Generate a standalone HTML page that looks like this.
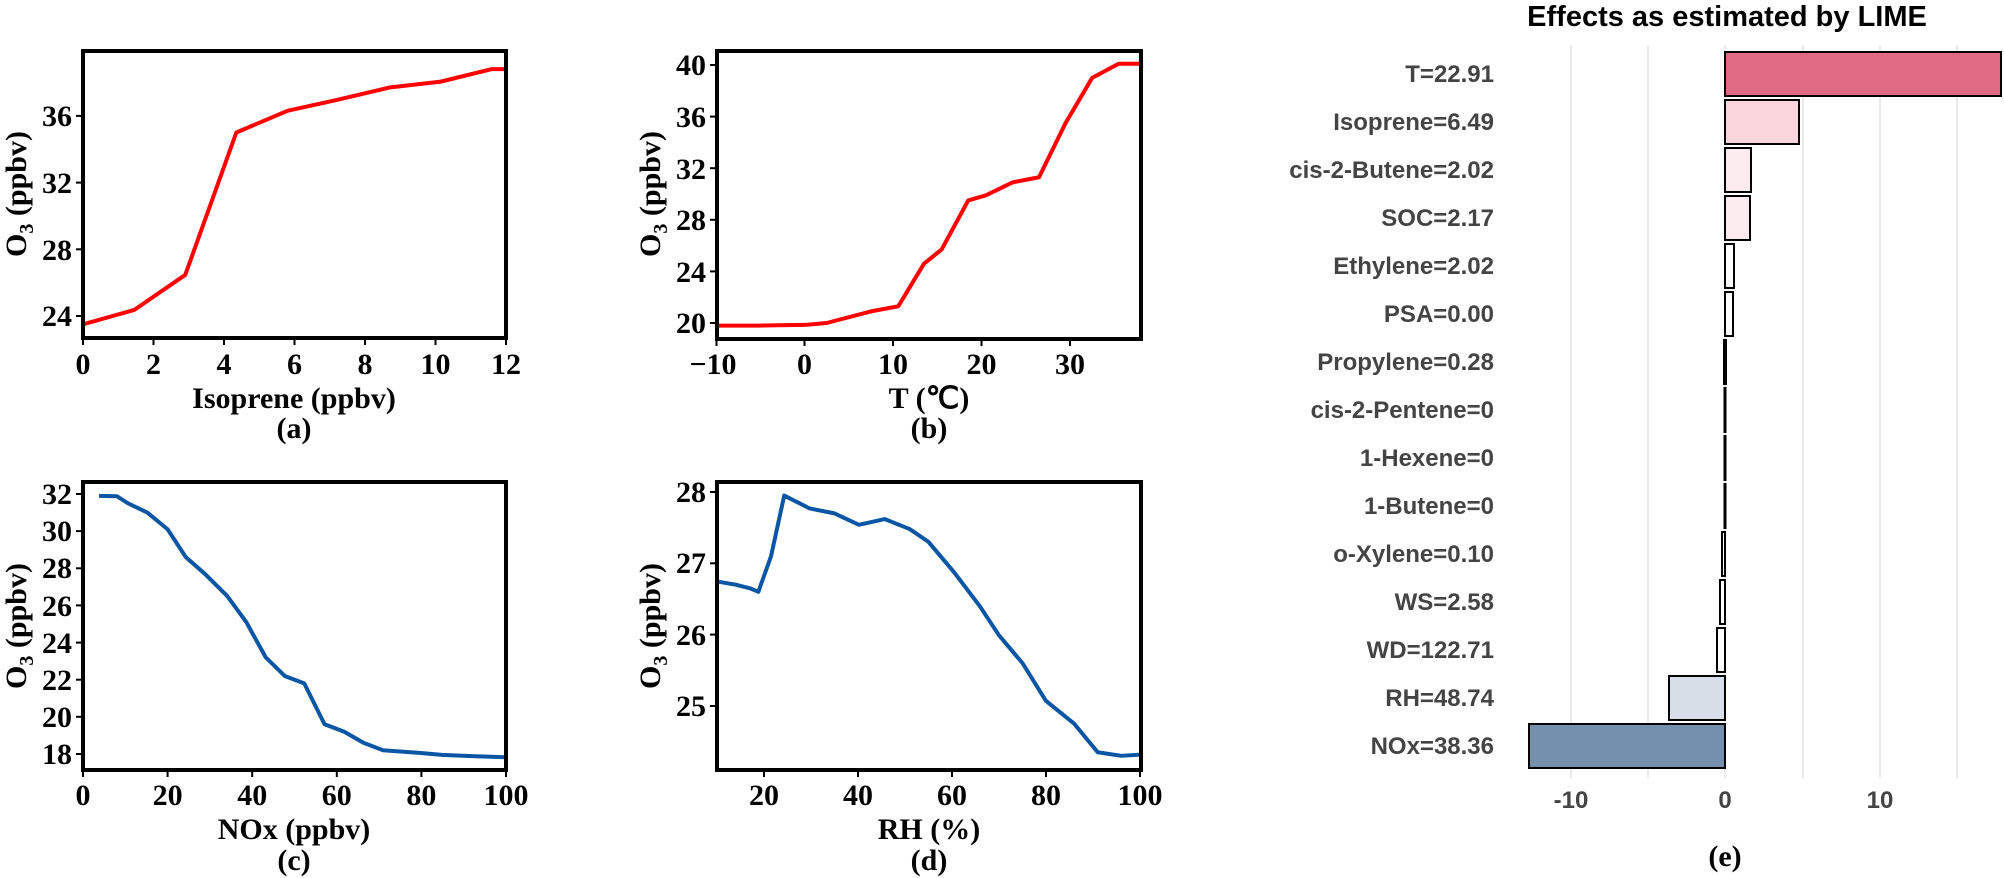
<!DOCTYPE html>
<html><head><meta charset="utf-8"><style>
html,body{margin:0;padding:0;background:#fff;}
svg{display:block;}
.t{font-family:"Liberation Serif",serif;font-weight:bold;font-size:30px;fill:#000;}
.l{font-family:"Liberation Sans",sans-serif;font-weight:bold;font-size:24px;fill:#444;}
</style></head><body>
<svg width="2004" height="878" viewBox="0 0 2004 878" xmlns="http://www.w3.org/2000/svg">
<defs>
<clipPath id="ca"><rect x="83" y="51" width="423" height="287"/></clipPath>
<clipPath id="cb"><rect x="717" y="51" width="424" height="288"/></clipPath>
<clipPath id="cc"><rect x="83" y="482" width="423" height="288"/></clipPath>
<clipPath id="cd"><rect x="717" y="482" width="424" height="288"/></clipPath>
</defs>

<!-- Panel a -->
<g clip-path="url(#ca)">
<polyline transform="matrix(35.25 0 0 -16.68 83 716.3)" vector-effect="non-scaling-stroke" fill="none" stroke="#ff0000" stroke-width="4" stroke-linejoin="round"
points="0,23.5 1.45,24.36 2.9,26.46 4.35,35.0 5.8,36.3 7.2,36.95 8.7,37.7 10.15,38.05 11.6,38.8 12.2,38.8"/>
</g>
<rect x="83" y="51" width="423" height="287" fill="none" stroke="#000" stroke-width="4"/>
<g stroke="#000" stroke-width="2">
<line x1="83" y1="338" x2="83" y2="345"/><line x1="153.5" y1="338" x2="153.5" y2="345"/><line x1="224" y1="338" x2="224" y2="345"/><line x1="294.5" y1="338" x2="294.5" y2="345"/><line x1="365" y1="338" x2="365" y2="345"/><line x1="435.5" y1="338" x2="435.5" y2="345"/><line x1="506" y1="338" x2="506" y2="345"/>
<line x1="76" y1="316" x2="83" y2="316"/><line x1="76" y1="249.3" x2="83" y2="249.3"/><line x1="76" y1="182.6" x2="83" y2="182.6"/><line x1="76" y1="115.9" x2="83" y2="115.9"/>
</g>
<g class="t" text-anchor="middle">
<text x="83" y="374">0</text><text x="153.5" y="374">2</text><text x="224" y="374">4</text><text x="294.5" y="374">6</text><text x="365" y="374">8</text><text x="435.5" y="374">10</text><text x="506" y="374">12</text>
<text x="294" y="408">Isoprene (ppbv)</text><text x="294" y="438">(a)</text>
</g>
<g class="t" text-anchor="end">
<text x="72" y="326">24</text><text x="72" y="260">28</text><text x="72" y="193">32</text><text x="72" y="126">36</text>
</g>
<text class="t" transform="translate(26,194) rotate(-90)" text-anchor="middle">O<tspan font-size="20" dy="7">3</tspan><tspan dy="-7"> (ppbv)</tspan></text>

<!-- Panel b -->
<g clip-path="url(#cb)">
<polyline transform="matrix(8.85 0 0 -12.9 804.5 581)" vector-effect="non-scaling-stroke" fill="none" stroke="#ff0000" stroke-width="4" stroke-linejoin="round"
points="-10,19.8 -5,19.8 0,19.85 2.5,20 7.5,20.9 10.6,21.3 13.5,24.6 15.5,25.7 18.5,29.5 20.5,29.9 23.5,30.9 26.5,31.3 29.5,35.5 32.5,39 35.5,40.1 38.5,40.1"/>
</g>
<rect x="717" y="51" width="424" height="288" fill="none" stroke="#000" stroke-width="4"/>
<g stroke="#000" stroke-width="2">
<line x1="716.5" y1="339" x2="716.5" y2="346"/><line x1="804.5" y1="339" x2="804.5" y2="346"/><line x1="893" y1="339" x2="893" y2="346"/><line x1="981.5" y1="339" x2="981.5" y2="346"/><line x1="1070" y1="339" x2="1070" y2="346"/>
<line x1="710" y1="323" x2="717" y2="323"/><line x1="710" y1="271.4" x2="717" y2="271.4"/><line x1="710" y1="219.8" x2="717" y2="219.8"/><line x1="710" y1="168.2" x2="717" y2="168.2"/><line x1="710" y1="116.6" x2="717" y2="116.6"/><line x1="710" y1="65" x2="717" y2="65"/>
</g>
<g class="t" text-anchor="middle">
<text x="713" y="374">−10</text><text x="804.5" y="374">0</text><text x="893" y="374">10</text><text x="981.5" y="374">20</text><text x="1070" y="374">30</text>
<text x="929" y="408">T (℃)</text><text x="929" y="438">(b)</text>
</g>
<g class="t" text-anchor="end">
<text x="706" y="333">20</text><text x="706" y="282">24</text><text x="706" y="230">28</text><text x="706" y="179">32</text><text x="706" y="127">36</text><text x="706" y="75">40</text>
</g>
<text class="t" transform="translate(660,194) rotate(-90)" text-anchor="middle">O<tspan font-size="20" dy="7">3</tspan><tspan dy="-7"> (ppbv)</tspan></text>

<!-- Panel c -->
<g clip-path="url(#cc)">
<polyline transform="matrix(4.23 0 0 -18.57 83 1088.2)" vector-effect="non-scaling-stroke" fill="none" stroke="#0b56a4" stroke-width="4" stroke-linejoin="round"
points="3.8,31.9 8,31.88 10.6,31.5 15.2,31 20,30.1 24.3,28.6 28.8,27.7 34.1,26.5 38.6,25.1 43.2,23.2 47.7,22.2 52.3,21.8 57.1,19.6 61.7,19.2 66.3,18.6 70.9,18.2 79.9,18.05 84.8,17.95 92,17.88 100.5,17.82"/>
</g>
<rect x="83" y="482" width="423" height="288" fill="none" stroke="#000" stroke-width="4"/>
<g stroke="#000" stroke-width="2">
<line x1="83" y1="770" x2="83" y2="777"/><line x1="167.6" y1="770" x2="167.6" y2="777"/><line x1="252.2" y1="770" x2="252.2" y2="777"/><line x1="336.8" y1="770" x2="336.8" y2="777"/><line x1="421.4" y1="770" x2="421.4" y2="777"/><line x1="506" y1="770" x2="506" y2="777"/>
<line x1="76" y1="754" x2="83" y2="754"/><line x1="76" y1="716.8" x2="83" y2="716.8"/><line x1="76" y1="679.7" x2="83" y2="679.7"/><line x1="76" y1="642.6" x2="83" y2="642.6"/><line x1="76" y1="605.4" x2="83" y2="605.4"/><line x1="76" y1="568.3" x2="83" y2="568.3"/><line x1="76" y1="531.1" x2="83" y2="531.1"/><line x1="76" y1="494" x2="83" y2="494"/>
</g>
<g class="t" text-anchor="middle">
<text x="83" y="805">0</text><text x="167.6" y="805">20</text><text x="252.2" y="805">40</text><text x="336.8" y="805">60</text><text x="421.4" y="805">80</text><text x="506" y="805">100</text>
<text x="294" y="839">NOx (ppbv)</text><text x="294" y="870">(c)</text>
</g>
<g class="t" text-anchor="end">
<text x="72" y="764">18</text><text x="72" y="727">20</text><text x="72" y="690">22</text><text x="72" y="653">24</text><text x="72" y="616">26</text><text x="72" y="578">28</text><text x="72" y="541">30</text><text x="72" y="504">32</text>
</g>
<text class="t" transform="translate(26,626) rotate(-90)" text-anchor="middle">O<tspan font-size="20" dy="7">3</tspan><tspan dy="-7"> (ppbv)</tspan></text>

<!-- Panel d -->
<g clip-path="url(#cd)">
<polyline transform="matrix(4.7 0 0 -71.3 670 2488.4)" vector-effect="non-scaling-stroke" fill="none" stroke="#0b56a4" stroke-width="4" stroke-linejoin="round"
points="9.5,26.75 14,26.7 17,26.65 18.8,26.6 21.5,27.1 24.3,27.95 29.7,27.77 35,27.7 40.2,27.54 45.7,27.62 51,27.48 55,27.3 60.5,26.87 65.9,26.4 70,25.99 75,25.6 80,25.07 86,24.75 91,24.35 96,24.3 101,24.32"/>
</g>
<rect x="717" y="482" width="424" height="288" fill="none" stroke="#000" stroke-width="4"/>
<g stroke="#000" stroke-width="2">
<line x1="764" y1="770" x2="764" y2="777"/><line x1="858" y1="770" x2="858" y2="777"/><line x1="952" y1="770" x2="952" y2="777"/><line x1="1046" y1="770" x2="1046" y2="777"/><line x1="1140" y1="770" x2="1140" y2="777"/>
<line x1="710" y1="706" x2="717" y2="706"/><line x1="710" y1="634.6" x2="717" y2="634.6"/><line x1="710" y1="563.3" x2="717" y2="563.3"/><line x1="710" y1="492" x2="717" y2="492"/>
</g>
<g class="t" text-anchor="middle">
<text x="764" y="805">20</text><text x="858" y="805">40</text><text x="952" y="805">60</text><text x="1046" y="805">80</text><text x="1140" y="805">100</text>
<text x="929" y="839">RH (%)</text><text x="929" y="870">(d)</text>
</g>
<g class="t" text-anchor="end">
<text x="706" y="716">25</text><text x="706" y="645">26</text><text x="706" y="573">27</text><text x="706" y="502">28</text>
</g>
<text class="t" transform="translate(660,626) rotate(-90)" text-anchor="middle">O<tspan font-size="20" dy="7">3</tspan><tspan dy="-7"> (ppbv)</tspan></text>

<!-- Panel e -->
<text x="1727" y="26" text-anchor="middle" style="font-family:'Liberation Sans',sans-serif;font-weight:bold;font-size:29px;fill:#000">Effects as estimated by LIME</text>
<g stroke="#ebebeb" stroke-width="2">
<line x1="1571" y1="45" x2="1571" y2="778"/><line x1="1648" y1="45" x2="1648" y2="778"/><line x1="1725" y1="45" x2="1725" y2="778"/><line x1="1803" y1="45" x2="1803" y2="778"/><line x1="1880" y1="45" x2="1880" y2="778"/><line x1="1957" y1="45" x2="1957" y2="778"/>
</g>
<g stroke="#000" stroke-width="2">
<rect x="1725" y="52" width="276" height="44" fill="#e06a83"/>
<rect x="1725" y="100" width="74" height="44" fill="#fad5dc"/>
<rect x="1725" y="148" width="26" height="44" fill="#fcecef"/>
<rect x="1725" y="196" width="25" height="44" fill="#fcecef"/>
<rect x="1725" y="244" width="9" height="44" fill="#fff"/>
<rect x="1725" y="292" width="8" height="44" fill="#fff"/>
<rect x="1724" y="340" width="2" height="44" fill="#000"/>
<rect x="1724.5" y="388" width="1" height="44" fill="#000"/>
<rect x="1724.5" y="436" width="1" height="44" fill="#000"/>
<rect x="1724.5" y="484" width="1" height="44" fill="#000"/>
<rect x="1722" y="532" width="3" height="44" fill="#fff"/>
<rect x="1720" y="580" width="5" height="44" fill="#fff"/>
<rect x="1717" y="628" width="8" height="44" fill="#fff"/>
<rect x="1669" y="676" width="56" height="44" fill="#d8dee8"/>
<rect x="1529" y="724" width="196" height="44" fill="#7590ad"/>
</g>
<g class="l" text-anchor="end">
<text x="1494" y="82">T=22.91</text>
<text x="1494" y="130">Isoprene=6.49</text>
<text x="1494" y="178">cis-2-Butene=2.02</text>
<text x="1494" y="226">SOC=2.17</text>
<text x="1494" y="274">Ethylene=2.02</text>
<text x="1494" y="322">PSA=0.00</text>
<text x="1494" y="370">Propylene=0.28</text>
<text x="1494" y="418">cis-2-Pentene=0</text>
<text x="1494" y="466">1-Hexene=0</text>
<text x="1494" y="514">1-Butene=0</text>
<text x="1494" y="562">o-Xylene=0.10</text>
<text x="1494" y="610">WS=2.58</text>
<text x="1494" y="658">WD=122.71</text>
<text x="1494" y="706">RH=48.74</text>
<text x="1494" y="754">NOx=38.36</text>
</g>
<g class="l" text-anchor="middle">
<text x="1571" y="808">-10</text><text x="1725" y="808">0</text><text x="1880" y="808">10</text>
</g>
<text class="t" x="1725" y="866" text-anchor="middle">(e)</text>
</svg>
</body></html>
